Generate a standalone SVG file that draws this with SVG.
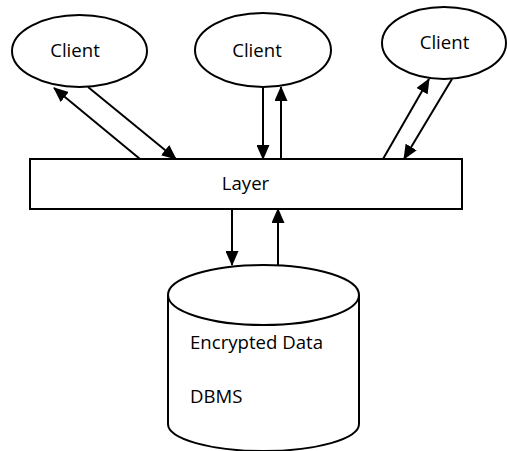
<svg xmlns="http://www.w3.org/2000/svg" width="507" height="451" viewBox="0 0 507 451">
<style>
.shape{fill:#fff;stroke:#000;stroke-width:2}
.lbl{font-family:"Open Sans","Liberation Sans",sans-serif;font-size:18.6px;fill:#000}
.conn{stroke:#000;stroke-width:2;fill:none;marker-end:url(#ah)}
</style>
<defs>
<marker id="ah" markerUnits="userSpaceOnUse" markerWidth="15" markerHeight="13" refX="14" refY="6.5" orient="auto">
<path d="M0,0 L15,6.5 L0,13 z" fill="#000"/>
</marker>
</defs>
<rect width="507" height="451" fill="#fff"/>
<g id="client1">
<ellipse class="shape" cx="79.5" cy="51" rx="67.5" ry="36"/>
<text class="lbl" x="75" y="57" text-anchor="middle">Client</text>
</g>
<g id="client2">
<ellipse class="shape" cx="263" cy="50" rx="68" ry="37"/>
<text class="lbl" x="257" y="57" text-anchor="middle">Client</text>
</g>
<g id="client3">
<ellipse class="shape" cx="444" cy="43" rx="62" ry="36"/>
<text class="lbl" x="444.5" y="49" text-anchor="middle">Client</text>
</g>
<g id="layer">
<rect class="shape" x="30" y="159" width="432" height="50"/>
<text class="lbl" x="245.5" y="189.5" text-anchor="middle">Layer</text>
</g>
<g id="dbms">
<path class="shape" d="M168,295 L168,424 A95.5,27 0 0 0 359,424 L359,295"/>
<ellipse class="shape" cx="263.5" cy="295" rx="95.5" ry="30"/>
<text class="lbl" x="190" y="349">Encrypted Data</text>
<text class="lbl" x="190" y="403">DBMS</text>
</g>
<g id="connectors">
<line class="conn" x1="140" y1="159" x2="54" y2="88"/>
<line class="conn" x1="88" y1="87" x2="176" y2="159"/>
<line class="conn" x1="263" y1="87" x2="263" y2="159"/>
<line class="conn" x1="281" y1="159" x2="281" y2="87"/>
<line class="conn" x1="383" y1="159" x2="429" y2="79"/>
<line class="conn" x1="452" y1="79" x2="404" y2="159"/>
<line class="conn" x1="232" y1="209" x2="232" y2="265"/>
<line class="conn" x1="278" y1="265" x2="278" y2="209"/>
</g>
</svg>
